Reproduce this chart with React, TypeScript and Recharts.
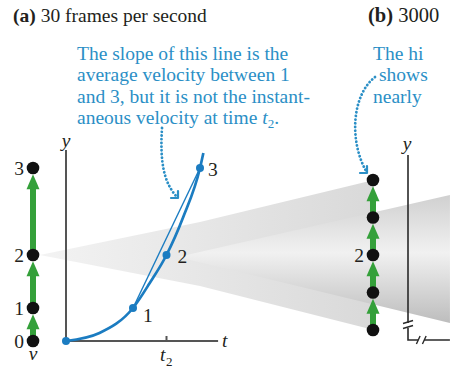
import React from 'react';
import { ComposedChart, XAxis, YAxis, Line, Area, Scatter } from 'recharts';

// ---- graph (a): position y versus time t ----
const pointT = [0, 2, 3, 4];
const pointY = [0, 3.3, 8.6, 17.3];
const pointLabels = ['', '1', '2', '3'];
const curveT = [0, 1, 2, 2.5, 3, 3.5, 4, 4.1];
const curveY = [0, 0.8, 3.3, 5.8, 8.6, 12.4, 17.3, 18.8];
const axisTMax = 4.54;
const axisYMax = 19.1;
const tickT = 3;

// ---- motion diagram (a) (uses pointY) ----
const motionALabels = ['0', '1', '2', '3'];
// ---- motion diagram (b): 3000 fps, around point 2 ----
const motionBY = [1.1, 4.85, 8.6, 12.35, 16.1];
const motionBLabels = ['', '', '2', '', ''];

// ---- magnification cones ----
const outerConeT = [-0.78, 4.0, 9.19];
const outerConeLo = [8.6, 5.5, 1.1];
const outerConeHi = [8.6, 11.9, 16.1];
const innerConeT = [3.34, 11.46];
const innerConeLo = [8.4, 1.8];
const innerConeHi = [8.4, 14.6];

// ---- text (panel b is cut off at the right edge in the original) ----
const titleA = '30 frames per second';
const titleB = '3000';
const noteA = ['The slope of this line is the', 'average velocity between 1', 'and 3, but it is not the instant-', 'aneous velocity at time '];
const noteB = ['The hi', 'shows', 'nearly'];

// layout (chart units: 33.5 px per t unit, 10 px per y unit)
const X_DOMAIN: [number, number] = [-66 / 33.5, 384 / 33.5];
const Y_DOMAIN: [number, number] = [-2.9, 34.1];
const MOTION_A_T = -0.985;
const MOTION_B_T = 9.164;
const AXIS_B_T = 10.209;
const DOT_R = 6.3;
const DOT_R_U = 0.63;
const HEAD_U = 1.5;

const SERIF = '"Liberation Serif", "Times New Roman", serif';
const BLUE = '#1b7cc1';
const NOTE_BLUE = '#2b8fc6';
const GREEN = '#34a03a';
const INK = '#231f20';

const curveData = curveT.map((t, i) => ({ t, y: curveY[i] }));
const pointData = pointT.map((t, i) => ({ t, y: pointY[i], label: pointLabels[i], idx: i }));
const chordData = [pointData[1], pointData[3]];
const axisAData = [
  { t: 0, y: axisYMax },
  { t: 0, y: 0 },
  { t: axisTMax, y: 0 },
];
const tickData = [
  { t: tickT, y: 0 },
  { t: tickT, y: 0.5 },
];
const outerCone = outerConeT.map((t, i) => ({ t, r: [outerConeLo[i], outerConeHi[i]] }));
const innerCone = innerConeT.map((t, i) => ({ t, r: [innerConeLo[i], innerConeHi[i]] }));

const motionAData = pointY.map((y, i) => ({ t: MOTION_A_T, y, label: motionALabels[i] }));
const motionBData = motionBY.map((y, i) => ({ t: MOTION_B_T, y, label: motionBLabels[i] }));

function shafts(x: number, ys: number[]) {
  const out: { t: number; y: number | null }[] = [];
  for (let i = 0; i < ys.length - 1; i++) {
    out.push({ t: x, y: ys[i] });
    out.push({ t: x, y: ys[i + 1] - DOT_R_U - HEAD_U + 0.2 });
    out.push({ t: x, y: null });
  }
  return out;
}
function heads(x: number, ys: number[]) {
  return ys.slice(1).map((y) => ({ t: x, y: y - DOT_R_U }));
}

const axisBData = [
  { t: AXIS_B_T, y: 18.6 },
  { t: AXIS_B_T, y: 1.8 },
  { t: AXIS_B_T, y: null },
  { t: AXIS_B_T, y: 1.3 },
  { t: AXIS_B_T, y: 0.1 },
  { t: 10.51, y: 0.1 },
  { t: 10.51, y: null },
  { t: 10.69, y: 0.1 },
  { t: 11.46, y: 0.1 },
];
const breakData = [
  { t: 10.06, y: 1.75 },
  { t: 10.36, y: 2.05 },
  { t: 10.36, y: null },
  { t: 10.06, y: 1.25 },
  { t: 10.36, y: 1.55 },
  { t: 10.36, y: null },
  { t: 10.46, y: -0.3 },
  { t: 10.57, y: 0.5 },
  { t: 10.57, y: null },
  { t: 10.64, y: -0.3 },
  { t: 10.75, y: 0.5 },
];

const blackDot = (props: any) => {
  const { cx, cy, payload } = props;
  return (
    <g>
      <circle cx={cx} cy={cy} r={DOT_R} fill="#111" />
      {payload.label ? (
        <text x={cx - 9} y={cy + 6.5} textAnchor="end" fontFamily={SERIF} fontSize={19.5} fill={INK}>
          {payload.label}
        </text>
      ) : null}
    </g>
  );
};

const labelOffsets = [
  [0, 0],
  [10, 13.5],
  [11, 7.5],
  [8, 7.5],
];
const bluePoint = (props: any) => {
  const { cx, cy, payload } = props;
  const off = labelOffsets[payload.idx];
  return (
    <g>
      <circle cx={cx} cy={cy} r={4} fill={BLUE} />
      {payload.label ? (
        <text x={cx + off[0]} y={cy + off[1]} fontFamily={SERIF} fontSize={19.5} fill={INK}>
          {payload.label}
        </text>
      ) : null}
    </g>
  );
};

const arrowHead = (props: any) => {
  const { cx, cy } = props;
  return <polygon points={`${cx},${cy} ${cx - 6.5},${cy + 15} ${cx + 6.5},${cy + 15}`} fill={GREEN} />;
};

const common = { isAnimationActive: false, dot: false, activeDot: false, legendType: 'none' as const };

export default function App() {
  return (
    <div style={{ position: 'absolute', left: 0, top: 0, width: 450, height: 370, overflow: 'hidden', background: '#fff' }}>
      <ComposedChart width={450} height={370} margin={{ top: 0, right: 0, bottom: 0, left: 0 }}>
        <defs>
          <linearGradient id="outerGrad" x1="0" y1="0" x2="1" y2="0">
            <stop offset="0" stopColor="#f3f3f3" />
            <stop offset="1" stopColor="#d9d9d9" />
          </linearGradient>
          <linearGradient id="innerGrad" x1="0" y1="0" x2="0" y2="1">
            <stop offset="0" stopColor="#d0d0d0" />
            <stop offset="0.45" stopColor="#f1f1f1" />
            <stop offset="1" stopColor="#bdbdbd" />
          </linearGradient>
        </defs>
        <XAxis type="number" dataKey="t" domain={X_DOMAIN} allowDataOverflow hide />
        <YAxis type="number" dataKey="y" domain={Y_DOMAIN} allowDataOverflow hide />

        <Area data={outerCone} dataKey="r" type="linear" stroke="none" fill="url(#outerGrad)" fillOpacity={1} {...common} />
        <Area data={innerCone} dataKey="r" type="linear" stroke="none" fill="url(#innerGrad)" fillOpacity={1} {...common} />

        <Line data={axisAData} dataKey="y" type="linear" stroke="#555" strokeWidth={2} {...common} />
        <Line data={tickData} dataKey="y" type="linear" stroke="#555" strokeWidth={2} {...common} />
        <Line data={chordData} dataKey="y" type="linear" stroke={BLUE} strokeWidth={1.4} {...common} />
        <Line data={curveData} dataKey="y" type="monotone" stroke={BLUE} strokeWidth={2.7} {...common} />
        <Scatter data={pointData} dataKey="y" shape={bluePoint} isAnimationActive={false} />

        <Line data={shafts(MOTION_A_T, pointY)} dataKey="y" type="linear" stroke={GREEN} strokeWidth={6} connectNulls={false} {...common} />
        <Scatter data={heads(MOTION_A_T, pointY)} dataKey="y" shape={arrowHead} isAnimationActive={false} />
        <Scatter data={motionAData} dataKey="y" shape={blackDot} isAnimationActive={false} />

        <Line data={axisBData} dataKey="y" type="linear" stroke="#2a2a2a" strokeWidth={1.6} connectNulls={false} {...common} />
        <Line data={breakData} dataKey="y" type="linear" stroke="#2a2a2a" strokeWidth={1.4} connectNulls={false} {...common} />
        <Line data={shafts(MOTION_B_T, motionBY)} dataKey="y" type="linear" stroke={GREEN} strokeWidth={6} connectNulls={false} {...common} />
        <Scatter data={heads(MOTION_B_T, motionBY)} dataKey="y" shape={arrowHead} isAnimationActive={false} />
        <Scatter data={motionBData} dataKey="y" shape={blackDot} isAnimationActive={false} />
      </ComposedChart>

      <svg width={450} height={370} style={{ position: 'absolute', left: 0, top: 0, pointerEvents: 'none' }} fontFamily={SERIF}>
        <text x={13} y={22} fontSize={19.5} fill={INK}>
          <tspan fontWeight="bold">(a)</tspan>
          {' ' + titleA}
        </text>
        <text x={368} y={22} fontSize={20.5} fill={INK}>
          <tspan fontWeight="bold">(b)</tspan>
          {' ' + titleB}
        </text>
        {noteA.map((s, i) => (
          <text key={i} x={77} y={60 + i * 21.3} fontSize={19.5} fill={NOTE_BLUE}>
            {s}
            {i === noteA.length - 1 ? (
              <>
                <tspan fontStyle="italic">t</tspan>
                <tspan fontSize={13} dy={4}>2</tspan>
                <tspan dy={-4}>.</tspan>
              </>
            ) : null}
          </text>
        ))}
        {noteB.map((s, i) => (
          <text key={i} x={i === 1 ? 379 : 373} y={60 + i * 21.3} fontSize={19.5} fill={NOTE_BLUE}>
            {s}
          </text>
        ))}
        <g fill="none" stroke={NOTE_BLUE} strokeWidth={2.8} strokeLinecap="round">
          <path d="M162,128 C160,160 163,182 177,197" strokeDasharray="0.1 3.6" />
          <path d="M375,77 C352,95 349,140 366,171" strokeDasharray="0.1 3.6" />
        </g>
        <g fill="none" stroke={NOTE_BLUE} strokeWidth={2.2} strokeLinecap="round" strokeLinejoin="round">
          <path d="M171,198 L178,198 L178,191" />
          <path d="M360,173 L367,173 L367,166" />
        </g>
        <g fontStyle="italic" fontSize={19.5} fill={INK}>
          <text x={66} y={147} textAnchor="middle">y</text>
          <text x={222} y={347}>t</text>
          <text x={160} y={361}>t</text>
          <text x={166} y={366} fontSize={13} fontStyle="normal">2</text>
          <text x={33} y={360} textAnchor="middle">v</text>
          <text x={407} y={150} textAnchor="middle">y</text>
        </g>
      </svg>
    </div>
  );
}
